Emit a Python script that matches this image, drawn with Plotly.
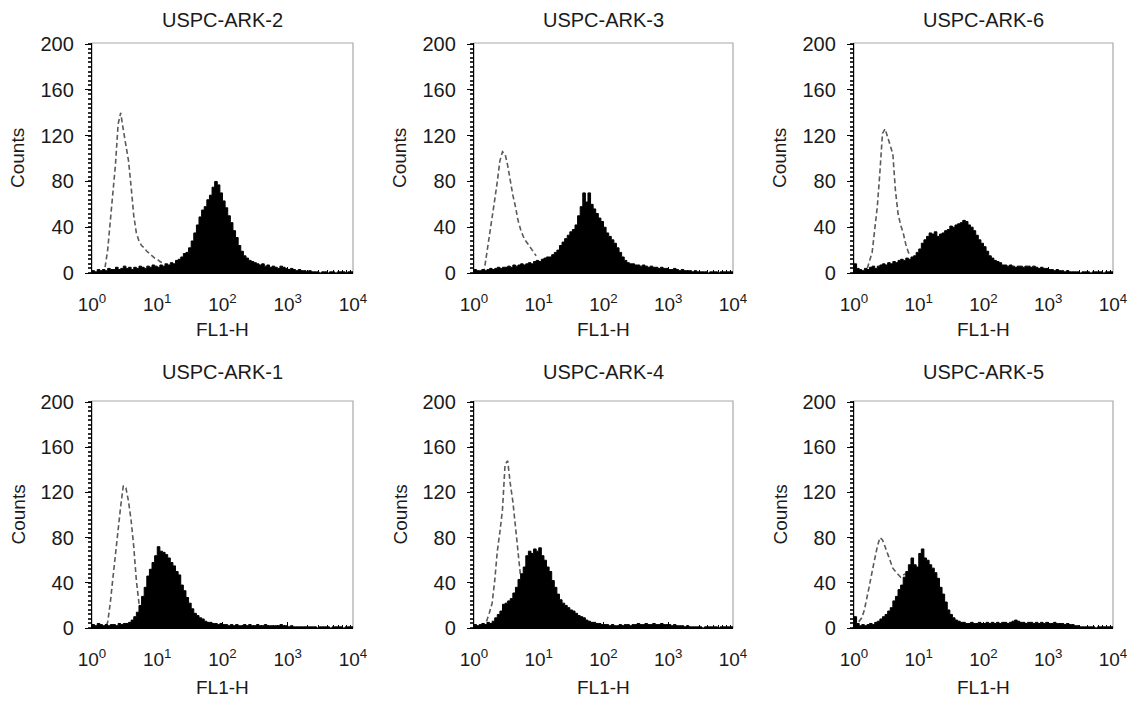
import plotly.graph_objects as go

W, H = 1131, 701

# ---------------- data ----------------
PANEL_TITLES = ["USPC-ARK-2", "USPC-ARK-3", "USPC-ARK-6",
                "USPC-ARK-1", "USPC-ARK-4", "USPC-ARK-5"]
X_TITLE = "FL1-H"
Y_TITLE = "Counts"
X_TICK_VALUES = [1, 10, 100, 1000, 10000]
X_TICK_LABELS = ["10<sup>0</sup>", "10<sup>1</sup>", "10<sup>2</sup>",
                 "10<sup>3</sup>", "10<sup>4</sup>"]
Y_TICK_VALUES = [0, 40, 80, 120, 160, 200]

# histogram channels, in decades of FL1-H (0.04-decade bins)
BIN_DECADES = [round(i * 0.04, 2) for i in range(101)]

# stained (filled) histograms, counts per channel
ARK2_STAINED = [2, 1, 3, 2, 3, 2, 4, 3, 3, 5, 3, 4, 6, 4, 5, 3, 5, 4, 6, 5,
                4, 6, 5, 7, 6, 5, 7, 6, 8, 7, 9, 8, 11, 12, 14, 17, 18, 22, 28, 35,
                42, 49, 55, 58, 64, 68, 75, 80, 77, 70, 63, 57, 50, 44, 37, 31, 24, 19, 15, 13,
                11, 10, 9, 8, 7, 8, 6, 7, 5, 6, 5, 4, 6, 5, 4, 3, 4, 3, 2, 3,
                2, 2, 1, 2, 1, 1, 1, 0, 1, 1, 0, 1, 1, 0, 1, 1, 1, 0, 1, 1, 1]
ARK3_STAINED = [3, 2, 2, 3, 2, 3, 4, 3, 4, 5, 4, 5, 5, 6, 5, 7, 6, 7, 8, 7,
                8, 9, 8, 10, 11, 10, 12, 13, 14, 14, 16, 18, 20, 24, 27, 30, 33, 36, 38, 42,
                50, 58, 70, 62, 70, 60, 56, 52, 48, 45, 40, 35, 32, 29, 26, 22, 18, 14, 11, 9,
                8, 8, 7, 7, 6, 7, 6, 5, 6, 5, 5, 4, 5, 4, 4, 3, 3, 4, 3, 2,
                3, 2, 2, 2, 1, 2, 1, 1, 1, 1, 0, 1, 1, 1, 0, 1, 1, 1, 1, 1, 1]
ARK6_STAINED = [8, 4, 3, 2, 4, 3, 5, 6, 4, 6, 7, 8, 7, 9, 8, 10, 9, 11, 12, 11,
                13, 12, 14, 15, 18, 21, 26, 29, 32, 35, 34, 36, 32, 34, 35, 37, 38, 41, 40, 42,
                43, 44, 46, 45, 42, 40, 37, 33, 29, 26, 23, 19, 15, 13, 11, 10, 9, 7, 7, 6,
                7, 6, 5, 6, 6, 5, 6, 6, 5, 6, 5, 4, 5, 4, 4, 3, 3, 2, 3, 2,
                2, 1, 2, 1, 1, 1, 1, 0, 1, 1, 1, 0, 1, 1, 1, 1, 0, 1, 1, 1, 1]
ARK1_STAINED = [3, 2, 4, 3, 2, 3, 2, 3, 3, 2, 4, 3, 4, 4, 5, 7, 10, 14, 20, 28,
                36, 46, 52, 58, 64, 72, 68, 67, 65, 62, 58, 55, 50, 47, 38, 33, 27, 22, 17, 13,
                11, 9, 8, 6, 5, 5, 4, 4, 3, 4, 3, 3, 2, 3, 2, 3, 2, 2, 3, 2,
                3, 2, 2, 3, 2, 2, 3, 2, 2, 2, 2, 2, 3, 2, 2, 1, 2, 1, 1, 1,
                1, 1, 1, 1, 1, 1, 0, 1, 1, 1, 1, 0, 1, 1, 1, 1, 0, 1, 1, 1, 1]
ARK4_STAINED = [3, 2, 3, 4, 3, 5, 4, 6, 9, 12, 15, 21, 22, 24, 26, 31, 36, 43, 48, 54,
                64, 68, 66, 70, 68, 71, 64, 60, 54, 50, 42, 36, 30, 25, 22, 20, 18, 16, 15, 13,
                11, 10, 9, 7, 6, 5, 5, 4, 4, 3, 3, 3, 2, 3, 2, 2, 3, 2, 3, 3,
                2, 3, 3, 4, 3, 3, 4, 3, 3, 4, 3, 3, 4, 3, 3, 3, 2, 3, 2, 2,
                2, 1, 2, 1, 1, 1, 1, 1, 0, 1, 1, 1, 1, 1, 0, 1, 1, 1, 1, 1, 1]
ARK5_STAINED = [10, 4, 2, 3, 2, 3, 4, 3, 5, 6, 8, 10, 12, 15, 18, 24, 28, 34, 38, 45,
                50, 56, 62, 56, 54, 66, 70, 62, 60, 56, 53, 49, 44, 36, 30, 23, 16, 12, 9, 7,
                6, 5, 5, 4, 4, 5, 4, 4, 5, 4, 4, 5, 4, 5, 4, 5, 4, 5, 5, 4,
                5, 6, 7, 6, 5, 5, 4, 5, 5, 4, 5, 4, 5, 4, 5, 4, 4, 5, 4, 4,
                4, 3, 4, 3, 3, 2, 2, 1, 1, 1, 1, 1, 1, 0, 1, 1, 1, 1, 1, 1, 1]

# isotype control (dashed) histograms, first channels only
ARK2_CONTROL = [0, 0, 0, 0, 1, 5, 20, 45, 70, 95, 130, 140, 125, 112, 98, 75, 50, 35, 28, 24,
                22, 19, 17, 15, 13, 12, 10, 9, 8]
ARK3_CONTROL = [0, 0, 0, 0, 3, 18, 32, 45, 64, 80, 98, 106, 104, 94, 80, 68, 58, 46, 38, 32,
                28, 25, 22, 18, 15]
ARK6_CONTROL = [0, 0, 0, 0, 0, 3, 10, 18, 38, 58, 88, 122, 126, 118, 110, 104, 72, 52, 42, 35,
                25, 18, 15]
ARK1_CONTROL = [0, 0, 0, 0, 0, 0, 5, 22, 44, 66, 90, 108, 126, 124, 112, 95, 72, 42, 22, 12]
ARK4_CONTROL = [0, 0, 0, 0, 2, 7, 14, 22, 42, 68, 85, 105, 145, 148, 128, 112, 90, 66, 45]
ARK5_CONTROL = [0, 2, 6, 9, 16, 26, 38, 50, 62, 72, 80, 78, 72, 65, 58, 53, 50, 47, 45, 47, 48]

STAINED = [ARK2_STAINED, ARK3_STAINED, ARK6_STAINED, ARK1_STAINED, ARK4_STAINED, ARK5_STAINED]
CONTROL = [ARK2_CONTROL, ARK3_CONTROL, ARK6_CONTROL, ARK1_CONTROL, ARK4_CONTROL, ARK5_CONTROL]

# ---------------- layout geometry (pixels) ----------------
COL_PX = [(92, 353), (474, 733), (854, 1113)]
ROW_PX = [(43, 273), (401, 628)]
TITLE_Y_PX = [20, 372]
XLABEL_Y_PX = [329, 687]
YLABEL_X_PX = [18, 400, 780]

FONT = "Liberation Sans, Arial, Helvetica, sans-serif"
TXT = "#1a1a1a"

X_MINOR = [k * 10 ** d for d in range(4) for k in range(2, 10)]

fig = go.Figure()
channels = [10 ** d for d in BIN_DECADES]

layout = dict(
    template="none",
    width=W, height=H,
    margin=dict(l=0, r=0, t=0, b=0, pad=0, autoexpand=False),
    paper_bgcolor="white", plot_bgcolor="white",
    showlegend=False,
    font=dict(family=FONT, size=18, color=TXT),
)
annotations = []
shapes = []

for k, title in enumerate(PANEL_TITLES):
    r, c = divmod(k, 3)
    xa = "x" if k == 0 else f"x{k + 1}"
    ya = "y" if k == 0 else f"y{k + 1}"
    control = CONTROL[k]
    stained = STAINED[k]

    fig.add_trace(go.Scatter(
        x=channels[:len(control)], y=control, xaxis=xa, yaxis=ya,
        mode="lines", line=dict(color="#5a5a5a", width=1.6, dash="5px,3px"),
        hoverinfo="skip"))
    fig.add_trace(go.Scatter(
        x=channels, y=stained, xaxis=xa, yaxis=ya,
        mode="lines", line=dict(color="black", width=1, shape="hv"),
        fill="tozeroy", fillcolor="black", hoverinfo="skip"))

    x0, x1 = COL_PX[c]
    y0, y1 = ROW_PX[r]
    xkey = "xaxis" if k == 0 else f"xaxis{k + 1}"
    ykey = "yaxis" if k == 0 else f"yaxis{k + 1}"
    layout[xkey] = dict(
        domain=[x0 / W, x1 / W], anchor=ya, type="log", range=[0, 4],
        automargin=False,
        tickmode="array", tickvals=X_TICK_VALUES, ticktext=X_TICK_LABELS,
        ticks="inside", ticklen=6, tickwidth=1.2, tickcolor="black",
        minor=dict(tickmode="array", tickvals=X_MINOR, ticks="inside", ticklen=3,
                   tickwidth=1, tickcolor="black"),
        showline=True, linecolor="black", linewidth=1.3, mirror=False,
        showgrid=False, zeroline=False,
        tickfont=dict(size=19, color=TXT), ticklabelstandoff=14,
    )
    layout[ykey] = dict(
        domain=[1 - y1 / H, 1 - y0 / H], anchor=xa, range=[0, 201],
        automargin=False,
        tickmode="array", tickvals=Y_TICK_VALUES,
        ticks="outside", ticklen=6, tickwidth=1.2, tickcolor="black",
        minor=dict(dtick=4, ticks="outside", ticklen=3, tickwidth=1.5, tickcolor="#333"),
        showline=True, linecolor="black", linewidth=1.3, mirror=False,
        showgrid=False, zeroline=False,
        tickfont=dict(size=20, color=TXT), ticklabelstandoff=7,
    )
    shapes.append(dict(type="rect", xref=f"{xa} domain", yref=f"{ya} domain",
                       x0=0, x1=1, y0=0, y1=1, line=dict(color="#a8a8a8", width=1.2),
                       layer="below"))
    cx = (x0 + x1) / 2 / W
    annotations.append(dict(text=title, x=cx, y=1 - TITLE_Y_PX[r] / H, xref="paper", yref="paper",
                            xanchor="center", yanchor="middle", showarrow=False,
                            font=dict(size=20, color=TXT)))
    annotations.append(dict(text=X_TITLE, x=cx, y=1 - XLABEL_Y_PX[r] / H, xref="paper", yref="paper",
                            xanchor="center", yanchor="middle", showarrow=False,
                            font=dict(size=19, color=TXT)))
    annotations.append(dict(text=Y_TITLE, x=YLABEL_X_PX[c] / W, y=1 - (y0 + y1) / 2 / H,
                            xref="paper", yref="paper", textangle=-90,
                            xanchor="center", yanchor="middle", showarrow=False,
                            font=dict(size=19, color=TXT)))

layout["annotations"] = annotations
layout["shapes"] = shapes
fig.update_layout(**layout)

fig.write_html("out.html")
